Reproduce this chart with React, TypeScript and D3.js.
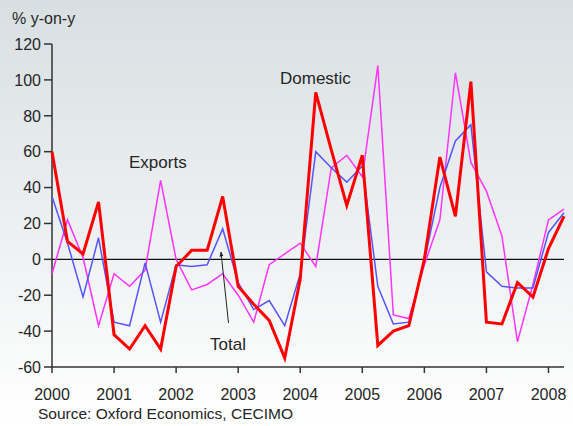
import React from "react";
import * as d3 from "d3";

const years = [2000, 2001, 2002, 2003, 2004, 2005, 2006, 2007, 2008];
const yTicks = [-60, -40, -20, 0, 20, 40, 60, 80, 100, 120];

// quarterly % y-on-y, 2000Q1 .. 2008Q2
const domestic = [60, 10, 3, 32, -42, -50, -37, -50, -4, 5, 5, 35, -15, -25, -34, -55, -11, 93, 61, 30, 58, -48, -40, -37, 0, 57, 24, 99, -35, -36, -13, -21, 6, 24];
const total = [35, 9, -21, 12, -35, -37, -2, -35, -3, -4, -3, 17, -13, -28, -23, -37, -8, 60, 51, 43, 52, -15, -36, -35, -1, 40, 66, 75, -7, -15, -16, -16, 15, 26];
const exportsS = [-8, 22, 1, -37, -8, -15, -6, 44, 0, -17, -14, -8, -20, -35, -3, 3, 9, -4, 51, 58, 46, 108, -31, -33, -3, 22, 104, 54, 38, 13, -46, -14, 22, 28];

const W = 573;
const H = 426;
const left = 52, right = 564, top = 44, bottom = 367;

export default function App() {
  const x = d3.scaleLinear().domain([2000, 2008.25]).range([left, right]);
  const y = d3.scaleLinear().domain([-60, 120]).range([bottom, top]);
  const t = (i: number) => 2000 + i / 4;
  const line = d3
    .line<number>()
    .x((_, i) => x(t(i)))
    .y((d) => y(d));
  const font = "'Liberation Sans', Arial, sans-serif";
  const txt = "#262626";
  return (
    <svg
      width={W}
      height={H}
      style={{ position: "fixed", left: 0, top: 0 }}
      fontFamily={font}
    >
      <defs>
        <linearGradient id="bg" x1="0" y1="0" x2="0" y2="1">
          <stop offset="0%" stopColor="#d8dfe2" />
          <stop offset="100%" stopColor="#ffffff" />
        </linearGradient>
        <marker id="arr" viewBox="0 0 10 10" refX="9" refY="5" markerWidth="5" markerHeight="7" orient="auto">
          <path d="M0,1 L10,5 L0,9 z" fill="#222" />
        </marker>
      </defs>
      <rect x={0} y={0} width={W} height={H} fill="url(#bg)" />

      {/* axes */}
      <line x1={left} x2={left} y1={top} y2={bottom} stroke="#333" strokeWidth={1.5} />
      <line x1={left} x2={right} y1={bottom} y2={bottom} stroke="#333" strokeWidth={1.5} />
      {yTicks.map((v) => (
        <g key={v}>
          <line x1={left - 8} x2={left} y1={y(v)} y2={y(v)} stroke="#333" strokeWidth={1.5} />
          <text x={left - 11} y={y(v)} dy="0.36em" textAnchor="end" fontSize={16} fill={txt}>
            {v}
          </text>
        </g>
      ))}
      {years.map((yr) => (
        <g key={yr}>
          <line x1={x(yr)} x2={x(yr)} y1={bottom} y2={bottom + 6} stroke="#333" strokeWidth={1.5} />
          <text x={x(yr)} y={400} textAnchor="middle" fontSize={16} fill={txt}>
            {yr}
          </text>
        </g>
      ))}
      <line x1={left} x2={right} y1={y(0)} y2={y(0)} stroke="#111" strokeWidth={1.2} />

      {/* series */}
      <path d={line(exportsS) || ""} fill="none" stroke="#ff33ff" strokeWidth={1.5} />
      <path d={line(total) || ""} fill="none" stroke="#5555ff" strokeWidth={1.5} />
      <path d={line(domestic) || ""} fill="none" stroke="#ff0000" strokeWidth={3} strokeLinejoin="miter" />

      {/* labels */}
      <text x={12} y={24} fontSize={16} fill={txt}>% y-on-y</text>
      <text x={129} y={168} fontSize={17} fill={txt}>Exports</text>
      <text x={280} y={84} fontSize={17} fill={txt}>Domestic</text>
      <text x={210} y={350} fontSize={17} fill={txt}>Total</text>
      <line x1={228.5} y1={323} x2={221} y2={252} stroke="#222" strokeWidth={1} markerEnd="url(#arr)" />
      <text x={38} y={419} fontSize={15.5} fill={txt}>Source: Oxford Economics, CECIMO</text>
    </svg>
  );
}
